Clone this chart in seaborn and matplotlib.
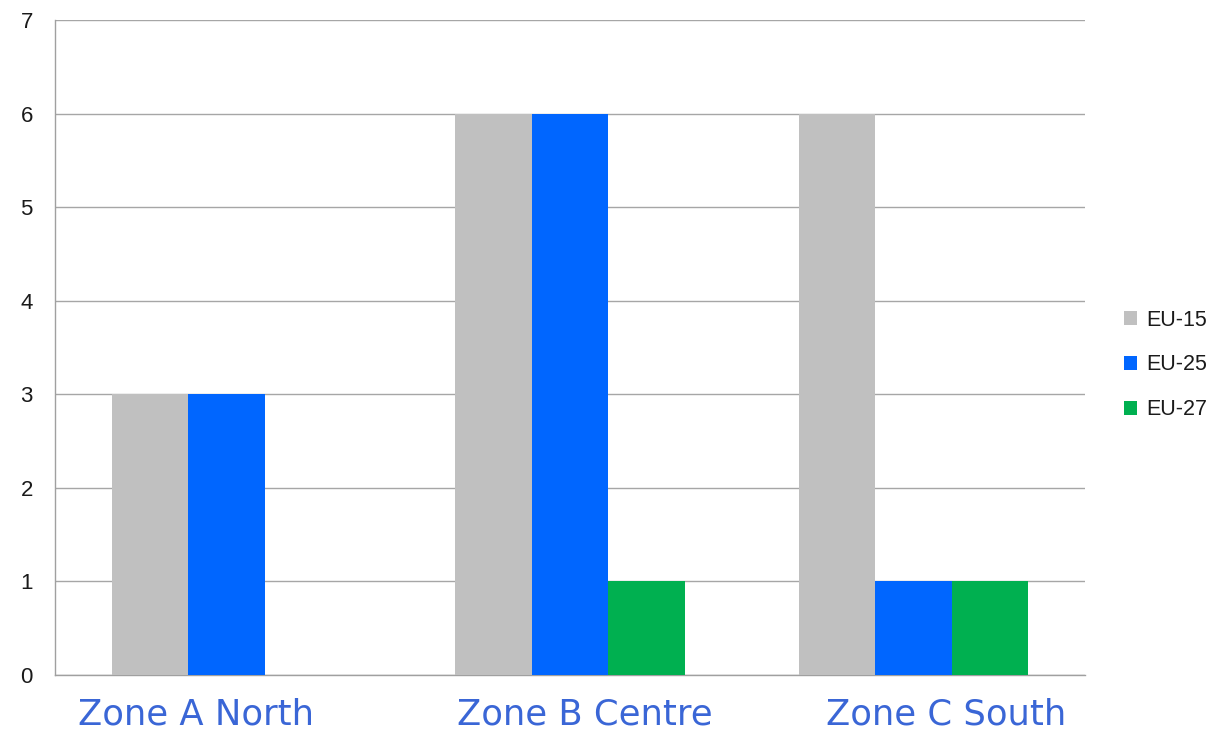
import matplotlib
matplotlib.use("Agg")
import matplotlib.pyplot as plt
import matplotlib.transforms as mtransforms
import seaborn as sns
import pandas as pd

categories = ["Zone A North", "Zone B Centre", "Zone C South"]
series = ["EU-15", "EU-25", "EU-27"]
eu15 = [3, 6, 6]
eu25 = [3, 6, 1]
eu27 = [0, 1, 1]
yticks = [0, 1, 2, 3, 4, 5, 6, 7]

colors = {"EU-15": "#c0c0c0", "EU-25": "#0066ff", "EU-27": "#00b050"}

rows = []
for s, vals in zip(series, [eu15, eu25, eu27]):
    for c, v in zip(categories, vals):
        rows.append({"zone": c, "series": s, "value": v})
df = pd.DataFrame(rows)

sns.set_style("white")
plt.rcParams["font.family"] = ["Liberation Sans", "DejaVu Sans"]

fig = plt.figure(figsize=(12.09, 7.31), dpi=100)
ax = fig.add_axes([55 / 1209, 1 - 675 / 731, (1085 - 55) / 1209, (675 - 20) / 731])

sns.barplot(data=df, x="zone", y="value", hue="series", order=categories,
            hue_order=series, palette=colors, width=0.667, gap=0,
            linewidth=0, edgecolor="none", saturation=1, ax=ax, legend=True,
            zorder=3)

ax.set_ylim(0, 7)
ax.set_yticks(yticks)
ax.set_xlim(-0.5, 2.5)
ax.yaxis.grid(True, color="#a6a6a6", linewidth=1.0, zorder=0)
ax.set_axisbelow(True)
ax.set_xlabel("")
ax.set_ylabel("")
for side in ["top", "right"]:
    ax.spines[side].set_visible(False)
ax.spines["left"].set_color("#a0a0a0")
ax.spines["bottom"].set_color("#a0a0a0")
ax.spines["left"].set_linewidth(1.0)
ax.spines["bottom"].set_linewidth(1.0)

ax.tick_params(axis="y", length=0, pad=16, labelsize=16, labelcolor="#1a1a1a")
ax.tick_params(axis="x", length=0, pad=16)
ax.set_xticks(range(len(categories)))
ax.set_xticklabels(categories, fontsize=25.5, color="#3a66d6", family="DejaVu Sans")
offsets = [-31, 15, 33]
for lbl, dx in zip(ax.get_xticklabels(), offsets):
    lbl.set_transform(lbl.get_transform() + mtransforms.ScaledTranslation(dx / 100, 0, fig.dpi_scale_trans))

leg = ax.legend(loc="center left", bbox_to_anchor=(1124 / 1209, 1 - 365 / 731),
                bbox_transform=fig.transFigure, frameon=False, fontsize=15.5,
                handlelength=0.62, handleheight=0.62, handletextpad=0.4,
                labelspacing=1.1, borderpad=0, borderaxespad=0)
for t in leg.get_texts():
    t.set_color("#1a1a1a")

fig.savefig("out.png", dpi=100)
